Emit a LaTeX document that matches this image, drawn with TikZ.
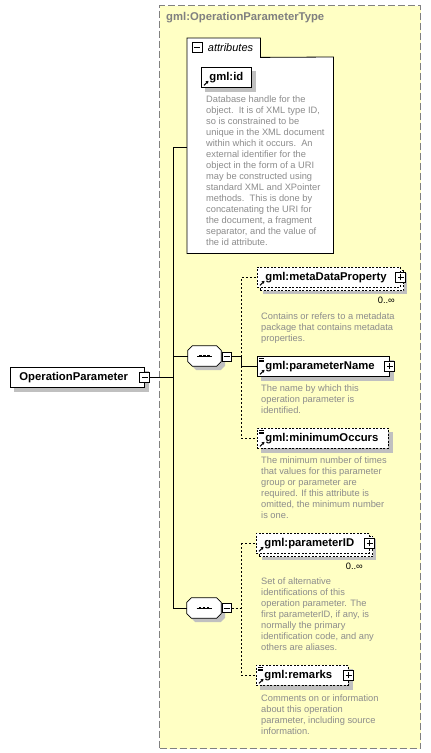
\documentclass[tikz,border=0pt]{standalone}
\usepackage{fontspec}
\setmainfont{Liberation Sans}
\usetikzlibrary{calc,arrows.meta}
\pgfdeclarelayer{l0}\pgfdeclarelayer{l1}\pgfdeclarelayer{l2}
\pgfsetlayers{l0,l1,l2,main}
\definecolor{yel}{HTML}{FFFFC4}
\definecolor{bord}{HTML}{808080}
\definecolor{desc}{HTML}{8C8C8C}
\definecolor{shad}{HTML}{C0C0C0}
\newcommand{\lbl}[2]{\makebox[#1][l]{#2}}
\newcommand{\shadowof}[1]{\begin{pgfonlayer}{l1}\fill[shad] ($(#1.north west)+(4,4)$) rectangle ($(#1.south east)+(4,4)$);\end{pgfonlayer}}
\newcommand{\multiback}[1]{\begin{pgfonlayer}{l2}\draw[line width=0.8pt, fill=white, dash pattern=on 2pt off 1.5pt] ($(#1.north west)+(3,3)$) rectangle ($(#1.south east)+(3,3)$);\end{pgfonlayer}\begin{pgfonlayer}{l1}\fill[shad] ($(#1.north west)+(6,6)$) rectangle ($(#1.south east)+(6,6)$);\end{pgfonlayer}}
\newcommand{\refarrow}[1]{\draw[line width=1.1pt,-{Triangle[length=2.6pt,width=3.2pt]}] ($(#1.south west)+(3,-2.5)$) -- ++(4.5,-4.5);}
\newcommand{\simplemark}[1]{\draw[line width=0.6pt] ($(#1.north west)+(2,2)$) -- ++(5,0) ($(#1.north west)+(2,3.8)$) -- ++(5,0) ($(#1.north west)+(2,5.6)$) -- ++(5,0);}
\newcommand{\octo}[3]{\path[#2] ($(#1.north west)+(4.5+#3,#3)$) -- ($(#1.north east)+(-4.5+#3,#3)$) -- ($(#1.north east)+(#3,4.5+#3)$) -- ($(#1.south east)+(#3,-4.5+#3)$) -- ($(#1.south east)+(-4.5+#3,#3)$) -- ($(#1.south west)+(4.5+#3,#3)$) -- ($(#1.south west)+(#3,-4.5+#3)$) -- ($(#1.north west)+(#3,4.5+#3)$) -- cycle;}
\newcommand{\seqdots}[1]{\draw[line width=0.9pt] ($(#1.center)+(-7.5,0)$) -- ($(#1.center)+(7.5,0)$);
 \fill ($(#1.center)+(-5.2,-1.3)$) rectangle ++(2.6,2.6);
 \fill ($(#1.center)+(-1.3,-1.3)$) rectangle ++(2.6,2.6);
 \fill ($(#1.center)+(2.6,-1.3)$) rectangle ++(2.6,2.6);}
\tikzset{
  elem/.style={draw=black, fill=white, line width=0.8pt, anchor=north west, inner ysep=0pt, inner xsep=8pt, minimum height=20pt, text height=8.2pt, text depth=2.4pt, font=\fontsize{11.3}{13}\selectfont\bfseries},
  optelem/.style={elem, dash pattern=on 2pt off 1.5pt},
  descr/.style={anchor=north west, inner sep=0pt, align=left, text=desc, font=\fontsize{9.3}{11}\selectfont},
  pm/.style={draw=black, fill=white, line width=0.7pt, minimum size=10pt, inner sep=0pt},
  pmsmall/.style={pm, minimum size=9pt},
  minus/.style={path picture={\draw[line width=0.7pt] ([xshift=-3pt]path picture bounding box.center) -- ([xshift=3pt]path picture bounding box.center);}},
  plus/.style={path picture={\draw[line width=0.7pt] ([xshift=-3pt]path picture bounding box.center) -- ([xshift=3pt]path picture bounding box.center) ([yshift=-3pt]path picture bounding box.center) -- ([yshift=3pt]path picture bounding box.center);}},
  conn/.style={line width=0.8pt},
  optconn/.style={line width=0.8pt, dash pattern=on 2pt off 2pt},
  card/.style={inner sep=0pt, anchor=base east, font=\fontsize{9.3}{11}\selectfont},
  frame/.style={inner sep=0pt, anchor=north west},
}
\begin{document}
\begin{tikzpicture}[x=1pt,y=-1pt]
\useasboundingbox (0,0) rectangle (431,753);
% type box
\begin{pgfonlayer}{l0}
\node[frame, draw=bord, fill=yel, line width=1pt, dash pattern=on 7pt off 3pt, minimum width=261pt, minimum height=743pt] (typebox) at (159,5) {};
\node[frame, minimum width=73pt, minimum height=19pt] (attrtab) at (187,38) {};
\node[frame, minimum width=146pt, minimum height=196pt] (attr) at (187,57) {};
\draw[line width=0.8pt, fill=white] (attr.south west) -- (attrtab.north west) -- (attrtab.north east) -- (attrtab.south east) -- (attr.north east) -- (attr.south east) -- cycle;
\end{pgfonlayer}
\node[anchor=west, inner sep=0pt, text=bord, font=\fontsize{11.3}{13}\selectfont\bfseries] (title) at (166,18) {gml:OperationParameterType};
\node[pm, minus, anchor=west] (attrm) at ($(attrtab.west)+(5,0)$) {};
\node[anchor=west, inner sep=0pt, font=\fontsize{11}{13}\selectfont\itshape] (attrlbl) at ($(attrm.east)+(5,0)$) {attributes};
% gml:id
\node[elem] (id) at (201,67) {\lbl{34pt}{gml:id}};
\shadowof{id}\refarrow{id}
\node[descr] (iddesc) at (206,95.4) {Database handle for the\\object.\ \ It is of XML type ID,\\so is constrained to be\\unique in the XML document\\within which it occurs.\ \ An\\external identifier for the\\object in the form of a URI\\may be constructed using\\standard XML and XPointer\\methods.\ \ This is done by\\concatenating the URI for\\the document, a fragment\\separator, and the value of\\the id attribute.};
% root element
\node[elem, inner xsep=9pt] (op) at (10,367) {\lbl{116pt}{OperationParameter}};
\shadowof{op}
\node[pm, minus] (opm) at (op.east) {};
% trunk
\coordinate (trunktop) at (173,147);
\coordinate (trunkbot) at (173,608);
% sequence 1
\node[inner sep=0pt, minimum width=33pt, minimum height=20pt] (seq1) at (204.5,356) {};
\begin{pgfonlayer}{l1}\octo{seq1}{fill=shad}{4}\end{pgfonlayer}
\octo{seq1}{draw=black, fill=white, line width=0.8pt}{0}
\seqdots{seq1}
\node[pmsmall, minus] (seq1m) at ($(seq1.east)+(5.5,0.5)$) {};
\coordinate (br1) at (241,356.5);
\node[optelem] (meta) at (257,267) {\lbl{127pt}{gml:metaDataProperty}};
\multiback{meta}\refarrow{meta}
\node[pm, plus] (metap) at (meta.east) {};
\node[card] (card1) at (395,303.5) {0..∞};
\node[descr] (metadesc) at (261,312.5) {Contains or refers to a metadata\\package that contains metadata\\properties.};
\node[elem] (name) at (257,356) {\lbl{116pt}{gml:parameterName}};
\shadowof{name}\refarrow{name}\simplemark{name}
\node[pm, plus] (namep) at (name.east) {};
\node[descr] (namedesc) at (261,384.5) {The name by which this\\operation parameter is\\identified.};
\node[optelem] (minocc) at (257,428) {\lbl{115pt}{gml:minimumOccurs}};
\shadowof{minocc}\refarrow{minocc}\simplemark{minocc}
\node[descr] (mindesc) at (261,456.7) {The minimum number of times\\that values for this parameter\\group or parameter are\\required. If this attribute is\\omitted, the minimum number\\is one.};
% sequence 2
\node[inner sep=0pt, minimum width=34pt, minimum height=20pt] (seq2) at (204,608) {};
\begin{pgfonlayer}{l1}\octo{seq2}{fill=shad}{4}\end{pgfonlayer}
\octo{seq2}{draw=black, fill=white, line width=0.8pt}{0}
\seqdots{seq2}
\node[pmsmall, minus] (seq2m) at ($(seq2.east)+(5.5,0)$) {};
\coordinate (br2) at (241,608);
\node[optelem] (pid) at (256,533) {\lbl{97pt}{gml:parameterID}};
\multiback{pid}\refarrow{pid}
\node[pm, plus] (pidp) at (pid.east) {};
\node[card] (card2) at (363,569.5) {0..∞};
\node[descr] (piddesc) at (261,577.5) {Set of alternative\\identifications of this\\operation parameter. The\\first parameterID, if any, is\\normally the primary\\identification code, and any\\others are aliases.};
\node[optelem] (rem) at (256,665) {\lbl{76pt}{gml:remarks}};
\shadowof{rem}\refarrow{rem}\simplemark{rem}
\node[pm, plus] (remp) at (rem.east) {};
\node[descr] (remdesc) at (261,694.7) {Comments on or information\\about this operation\\parameter, including source\\information.};
% connectors
\draw[conn] (trunktop) -- (attr.west |- trunktop);
\draw[conn] (trunktop) -- (trunkbot) -- (seq2.west);
\draw[conn] (opm.east) -- (opm.east -| trunktop);
\draw[conn] (seq1.west -| trunktop) -- (seq1.west);
\draw[conn] (seq1m.east) -- (br1) -- (br1 |- name.west) -- (name.west);
\draw[optconn] (br1) -- (br1 |- meta.west) -- (meta.west);
\draw[optconn] (br1 |- name.west) -- (br1 |- minocc.west) -- (minocc.west);
\draw[optconn] (seq2m.east) -- (br2);
\draw[optconn] (pid.west -| br2) -- (rem.west -| br2) -- (rem.west);
\draw[optconn] (pid.west -| br2) -- (pid.west);
\end{tikzpicture}
\end{document}
